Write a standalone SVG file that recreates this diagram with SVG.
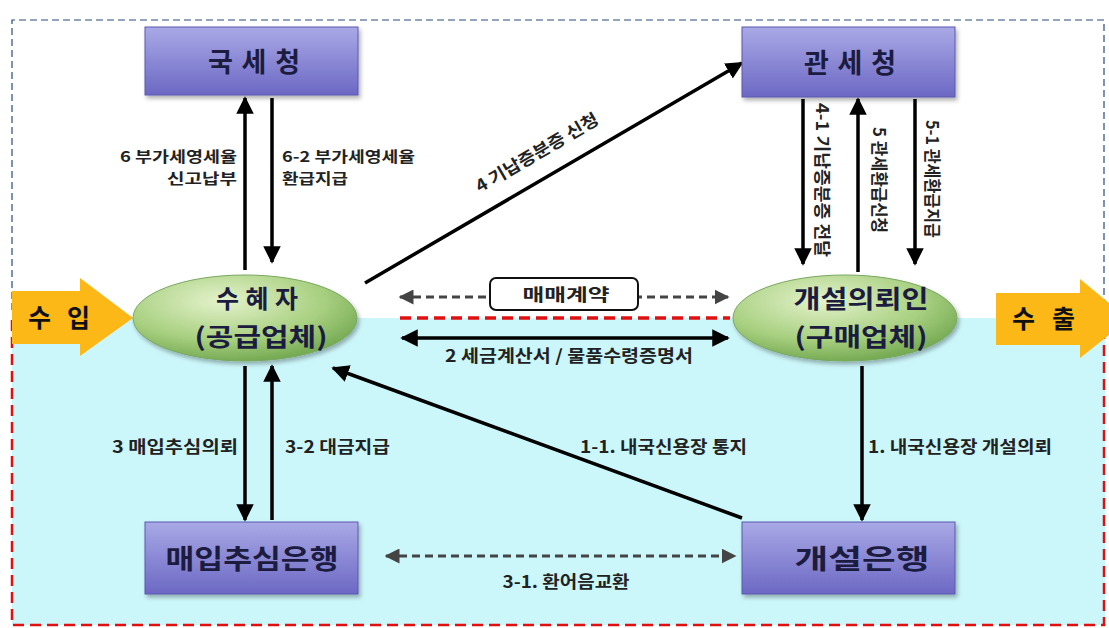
<svg xmlns="http://www.w3.org/2000/svg" width="1109" height="628" viewBox="0 0 1109 628">
<defs>
<linearGradient id="gBox" x1="0" y1="0" x2="0" y2="1">
<stop offset="0" stop-color="#a9a9e6"/>
<stop offset="1" stop-color="#6c68c4"/>
</linearGradient>
<radialGradient id="gEl" cx="0.4" cy="0.3" r="0.75">
<stop offset="0" stop-color="#e4f2cc"/>
<stop offset="0.6" stop-color="#a8d080"/>
<stop offset="1" stop-color="#6ea44c"/>
</radialGradient>
<marker id="ah" viewBox="0 0 10 10" refX="9" refY="5" markerWidth="5" markerHeight="5" orient="auto-start-reverse" markerUnits="strokeWidth">
<path d="M0,0 L10,5 L0,10 Z" fill="#000"/>
</marker>
<marker id="ahg" viewBox="0 0 10 10" refX="9" refY="5" markerWidth="5" markerHeight="5" orient="auto-start-reverse" markerUnits="strokeWidth">
<path d="M0,0 L10,5 L0,10 Z" fill="#444"/>
</marker>
<filter id="sh" x="-10%" y="-10%" width="130%" height="130%">
<feDropShadow dx="2" dy="3" stdDeviation="2" flood-color="#000" flood-opacity="0.3"/>
</filter>
</defs>
<style>
.box{fill:url(#gBox);stroke:#5a58b0;stroke-width:1;filter:url(#sh)}
.el{fill:url(#gEl);stroke:#7aa860;stroke-width:1;filter:url(#sh)}
.nt{font-family:"Noto Sans CJK KR","Noto Sans",sans-serif;font-weight:bold;font-size:27px;fill:#1c1c40;text-anchor:middle}
.et{font-size:25px}
.lb{font-family:"Noto Sans CJK KR","Noto Sans",sans-serif;font-weight:bold;font-size:17px;fill:#222}
.sm{font-size:15px}
.ln{stroke:#000;stroke-width:3.5;fill:none;marker-end:url(#ah)}
.dl{stroke:#444;stroke-width:3;fill:none;stroke-dasharray:8 5;marker-start:url(#ahg);marker-end:url(#ahg)}
.arw{fill:#fbb817}
.at{font-family:"Noto Sans CJK KR","Noto Sans",sans-serif;font-weight:bold;font-size:25px;fill:#111}
</style>
<rect x="0" y="0" width="1109" height="628" fill="#fff"/>
<rect x="12" y="318" width="1093" height="307" fill="#ccf7fa"/>
<path d="M12,310 L12,20 L1104,20 L1104,310" fill="none" stroke="#2a4a7a" stroke-width="1.2" stroke-dasharray="7 4"/>
<path d="M400,318 L730,318" stroke="#e01010" stroke-width="3.5" stroke-dasharray="11 6"/>
<path d="M12,320 L12,625 L1104,625 L1104,320" fill="none" stroke="#e01010" stroke-width="2.5" stroke-dasharray="11 6"/>
<g id="arrow-import">
<path class="arw" d="M12,291 L80,291 L80,278 L133,318 L80,356 L80,344 L12,344 Z"/>
<text class="at" x="28" y="327" textLength="62" lengthAdjust="spacing">수 입</text>
</g>
<g id="arrow-export">
<path class="arw" d="M996,293 L1080,293 L1080,279 L1109,303 L1109,335 L1080,358 L1080,345 L996,345 Z"/>
<text class="at" x="1012" y="328" textLength="63" lengthAdjust="spacing">수 출</text>
</g>
<g id="connectors">
<line class="ln" x1="245" y1="270" x2="245" y2="98"/>
<line class="ln" x1="272" y1="98" x2="272" y2="262"/>
<line class="ln" x1="365" y1="283" x2="742" y2="63"/>
<line class="ln" x1="803" y1="99" x2="803" y2="264"/>
<line class="ln" x1="858" y1="272" x2="858" y2="99"/>
<line class="ln" x1="915" y1="99" x2="915" y2="264"/>
<line class="dl" x1="400" y1="297" x2="728" y2="297"/>
<line class="ln" x1="402" y1="338" x2="728" y2="338" marker-start="url(#ah)"/>
<line class="ln" x1="245" y1="366" x2="245" y2="520"/>
<line class="ln" x1="272" y1="520" x2="272" y2="366"/>
<line class="ln" x1="862" y1="366" x2="862" y2="520"/>
<line class="ln" x1="742" y1="518" x2="333" y2="368"/>
<line class="dl" x1="386" y1="556" x2="735" y2="556"/>
</g>
<g id="labels">
<text class="lb sm" x="237" y="162" text-anchor="end" textLength="117" lengthAdjust="spacingAndGlyphs">6 부가세영세율</text>
<text class="lb sm" x="237" y="184" text-anchor="end" textLength="70" lengthAdjust="spacingAndGlyphs">신고납부</text>
<text class="lb sm" x="282" y="162" textLength="133" lengthAdjust="spacingAndGlyphs">6-2 부가세영세율</text>
<text class="lb sm" x="282" y="184" textLength="66" lengthAdjust="spacingAndGlyphs">환급지급</text>
<text class="lb" transform="translate(540,158) rotate(-30.3)" text-anchor="middle" textLength="139" lengthAdjust="spacingAndGlyphs">4 기납증분증 신청</text>
<text class="lb" transform="translate(816,180) rotate(90)" text-anchor="middle" textLength="154" lengthAdjust="spacingAndGlyphs">4-1 기납증분증 전달</text>
<text class="lb" transform="translate(873,180) rotate(90)" text-anchor="middle" textLength="106" lengthAdjust="spacingAndGlyphs">5 관세환급신청</text>
<text class="lb" transform="translate(926,179) rotate(90)" text-anchor="middle" textLength="118" lengthAdjust="spacingAndGlyphs">5-1 관세환급지급</text>
<rect x="490" y="278" width="148" height="32" rx="6" fill="#fff" stroke="#111" stroke-width="2"/>
<text class="lb" x="566" y="301" text-anchor="middle" textLength="87" lengthAdjust="spacingAndGlyphs">매매계약</text>
<text class="lb" x="569" y="362" text-anchor="middle" textLength="248" lengthAdjust="spacingAndGlyphs">2 세금계산서 / 물품수령증명서</text>
<text class="lb" x="238" y="453" text-anchor="end" textLength="126" lengthAdjust="spacingAndGlyphs">3 매입추심의뢰</text>
<text class="lb" x="285" y="453" textLength="105" lengthAdjust="spacingAndGlyphs">3-2 대금지급</text>
<text class="lb" x="580" y="453" textLength="167" lengthAdjust="spacingAndGlyphs">1-1. 내국신용장 통지</text>
<text class="lb" x="868" y="453" textLength="184" lengthAdjust="spacingAndGlyphs">1. 내국신용장 개설의뢰</text>
<text class="lb" x="566" y="588" text-anchor="middle" textLength="127" lengthAdjust="spacingAndGlyphs">3-1. 환어음교환</text>
</g>
<g id="node-nts">
<rect class="box" x="145" y="27" width="213" height="68"/>
<text class="nt" x="254" y="72" textLength="92" lengthAdjust="spacing">국 세 청</text>
</g>
<g id="node-customs">
<rect class="box" x="742" y="27" width="213" height="70"/>
<text class="nt" x="850" y="73" textLength="92" lengthAdjust="spacing">관 세 청</text>
</g>
<g id="node-beneficiary">
<ellipse class="el" cx="245" cy="318" rx="112" ry="43"/>
<text class="nt et" x="257" y="308" textLength="82" lengthAdjust="spacing">수 혜 자</text>
<text class="nt et" x="261" y="346" textLength="133" lengthAdjust="spacingAndGlyphs">(공급업체)</text>
</g>
<g id="node-applicant">
<ellipse class="el" cx="845" cy="318" rx="112" ry="43"/>
<text class="nt et" x="861" y="308" textLength="135" lengthAdjust="spacingAndGlyphs">개설의뢰인</text>
<text class="nt et" x="861" y="346" textLength="133" lengthAdjust="spacingAndGlyphs">(구매업체)</text>
</g>
<g id="node-negobank">
<rect class="box" x="145" y="522" width="213" height="72"/>
<text class="nt" x="252" y="569" textLength="173" lengthAdjust="spacingAndGlyphs">매입추심은행</text>
</g>
<g id="node-openbank">
<rect class="box" x="742" y="522" width="213" height="72"/>
<text class="nt" x="862" y="569" textLength="135" lengthAdjust="spacingAndGlyphs">개설은행</text>
</g>
</svg>
